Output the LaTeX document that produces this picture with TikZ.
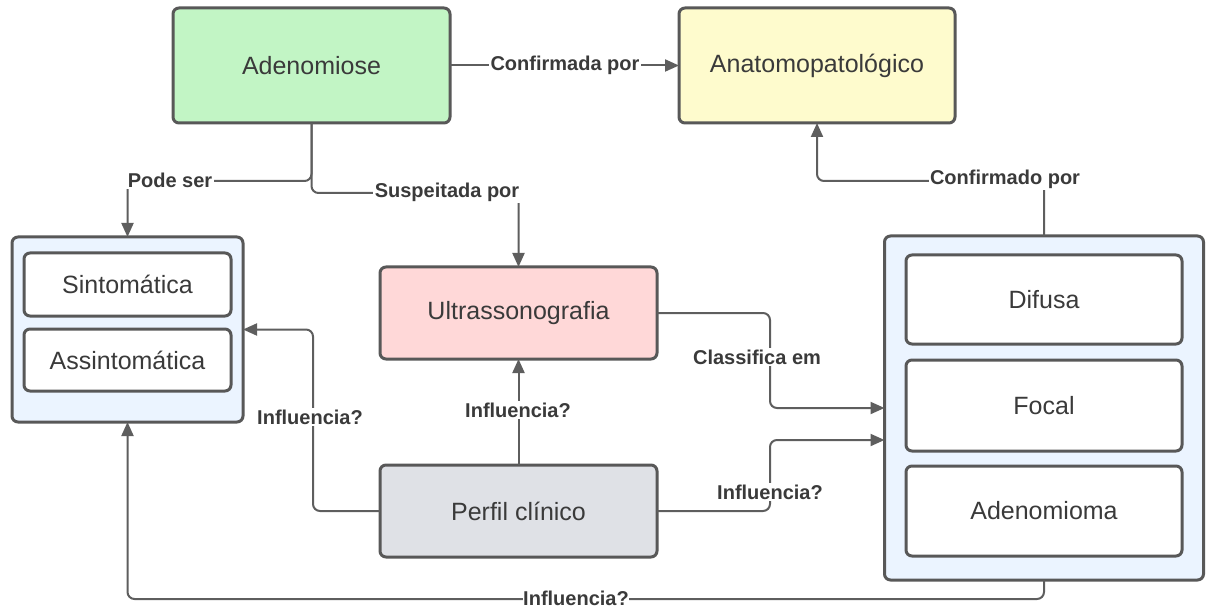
\documentclass[tikz,border=0pt]{standalone}
\usepackage{fontspec}
\setmainfont{Liberation Sans}
\usetikzlibrary{arrows.meta,calc}
\definecolor{bord}{HTML}{585858}
\definecolor{lnc}{HTML}{5E5E5E}
\definecolor{txt}{HTML}{3A3A3A}
\definecolor{cgreen}{HTML}{C2F5C5}
\definecolor{cyellow}{HTML}{FEFBCD}
\definecolor{cpink}{HTML}{FFD8D8}
\definecolor{cgray}{HTML}{DFE1E6}
\definecolor{cblue}{HTML}{EBF4FF}
\begin{document}
\begin{tikzpicture}[x=1pt,y=-1pt,
  box/.style={draw=bord,line width=3pt,rounded corners=6pt,inner sep=0pt,outer sep=0pt,text=txt,font=\fontsize{25}{30}\selectfont},
  conn/.style={draw=lnc,line width=2pt,rounded corners=7pt,-{Triangle[length=14pt,width=12pt]}},
  lbl/.style={fill=white,inner sep=1.5pt,text=txt,font=\bfseries\fontsize{20}{24}\selectfont}]
\useasboundingbox (0,0) rectangle (1206,609);
% main boxes
\node[box,fill=cgreen,minimum width=277pt,minimum height=115pt] (adeno) at (311.5,65.5) {Adenomiose};
\node[box,fill=cyellow,minimum width=276pt,minimum height=115pt] (anat) at (817,65.5) {Anatomopatológico};
\node[box,fill=cblue,minimum width=231pt,minimum height=185pt] (lc) at (127.5,329.5) {};
\node[box,fill=white,minimum width=207pt,minimum height=63pt] (sint) at (127.5,284.5) {Sintomática};
\node[box,fill=white,minimum width=207pt,minimum height=62pt] (assint) at (127.5,360) {Assintomática};
\node[box,fill=cpink,minimum width=277pt,minimum height=92pt] (ultra) at (518.5,313) {Ultrassonografia};
\node[box,fill=cgray,minimum width=277pt,minimum height=92pt] (perfil) at (518.5,511) {Perfil clínico};
\node[box,fill=cblue,minimum width=319pt,minimum height=344pt] (rc) at (1044,408) {};
\node[box,fill=white,minimum width=276pt,minimum height=89pt] (difusa) at (1044,299.5) {Difusa};
\node[box,fill=white,minimum width=276pt,minimum height=91pt] (focal) at (1044,405.5) {Focal};
\node[box,fill=white,minimum width=276pt,minimum height=90pt] (adenoma) at (1044,511) {Adenomioma};
\coordinate (rcin) at ($(rc.west)+(0,32)$);
% connectors
\draw[conn] (adeno.east) -- (anat.west);
\node[lbl] (l1) at (565,65) {Confirmada por};
\draw[conn] (adeno.south) -- ++(0,58) -| (lc.north);
\node[lbl] (l2) at (170,180) {Pode ser};
\draw[conn] (adeno.south) -- ++(0,70) -| (ultra.north);
\node[lbl] (l3) at (447,192) {Suspeitada por};
\draw[conn] (rc.north) -- ++(0,-55) -| (anat.south);
\node[lbl] (l4) at (1005,179) {Confirmado por};
\draw[conn] (ultra.east) -- ++(113,0) |- (rc.west);
\node[lbl] (l5) at (757,357) {Classifica em};
\draw[conn] (perfil.east) -- ++(113,0) |- (rcin);
\node[lbl] (l6) at (770,492) {Influencia?};
\draw[conn] (perfil.north) -- (ultra.south);
\node[lbl] (l7) at (518,410) {Influencia?};
\draw[conn] (perfil.west) -- ++(-67,0) |- (lc.east);
\node[lbl] (l8) at (310,417) {Influencia?};
\draw[conn] (rc.south) -- ++(0,19) -| (lc.south);
\node[lbl,inner sep=0.5pt] (l9) at (576,598) {Influencia?};
\end{tikzpicture}
\end{document}
